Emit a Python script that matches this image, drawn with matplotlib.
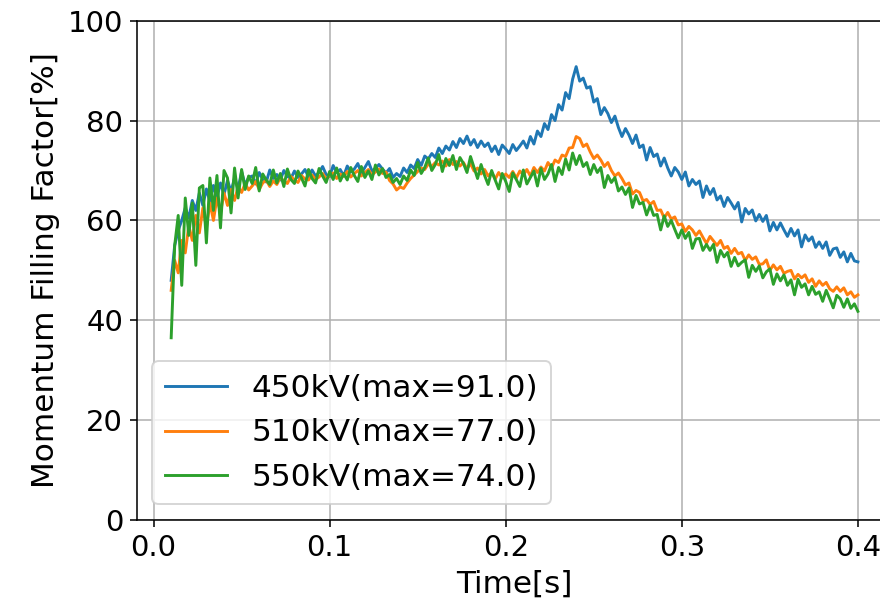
import matplotlib
matplotlib.use("Agg")
import matplotlib.pyplot as plt
import numpy as np

# Momentum filling factor (%), amostras a cada 2 ms de 0.01 s a 0.40 s
mff_450 = [48, 55, 58, 60, 62.5, 60.5, 64, 62, 65.5, 63,
           66.3, 63.8, 67, 64.5, 67.5, 65.2, 68, 65.8, 68.5, 66.3,
           69.8, 67.1, 68.6, 68.9, 67.3, 69.6, 68.2, 67.7, 70.1, 68.4,
           69.2, 68.1, 70, 68.8, 68.4, 69.9, 68.6, 69.3, 70.2, 68.7,
           70.1, 68.9, 69.6, 70.8, 69.2, 68.8, 71, 69.6, 70.2, 68.9,
           70.9, 69.7, 70.3, 71.4, 69.5, 70.6, 71.8, 69.9, 70.4, 71.2,
           70.3, 69.5, 70.4, 68.6, 69.4, 68.8, 70.5, 69.6, 71.1, 70.4,
           72.2, 71, 72.9, 72.3, 73.4, 72.6, 74.5, 73.4, 74.9, 74.1,
           75.8, 74.6, 76.4, 75.4, 76.9, 75.1, 76.2, 74.6, 75.9, 74.8,
           75.5, 73.8, 74.9, 73.2, 75.1, 74.3, 73.4, 75.2, 74, 74.9,
           75.9, 74.5, 76.8, 75.3, 77.9, 76.8, 79.4, 78.2, 81.2, 80,
           83.2, 82.1, 85.6, 84.4, 88.3, 90.8, 87.9, 88.5, 86.5, 86.8,
           83.7, 84.4, 81.2, 82.6, 81.4, 79.6, 80.9, 78.6, 76.8, 78.4,
           77.1, 75.4, 77.1, 74.6, 75.1, 72.1, 74.6, 72.8, 73.3, 70.9,
           72.5, 70.5, 68.9, 70.6, 69.7, 68.2, 69.7, 66.9, 68.2, 67.2,
           67.9, 64.6, 66.9, 65.2, 66.4, 64.1, 64.9, 62.8, 64.6, 63.5,
           62.3, 63.6, 59.7, 62.4, 61.3, 62.1, 59.9, 61.2, 59.8, 61,
           57.9, 59.6, 58.1, 59.5, 58.1, 56.8, 58.4, 56.9, 58.1, 54.7,
           57.1, 55.9, 56.7, 54.6, 55.7, 54.4, 55.7, 53, 54.3, 54.5,
           52.6, 53.7, 51.7, 53.4, 51.9, 51.7]

mff_510 = [46, 52, 49.5, 56, 53.5, 59, 56, 61, 57.5, 62.5,
           58.5, 63.5, 60, 64.5, 61.5, 65.5, 63, 66.2, 64, 66.8,
           65.6, 67.4, 66.1, 66.9, 67.8, 66.2, 67.5, 68.1, 66.8, 67.9,
           67.2, 68.6, 67.9, 67.4, 68.8, 68.1, 67.6, 69, 68.3, 68.1,
           69.1, 68.2, 68.7, 69.4, 68.3, 69, 69.5, 68.4, 69.3, 68.8,
           69.8, 68.7, 69.4, 70, 68.9, 69.6, 70.2, 69.1, 69.7, 70.3,
           69.4, 69.7, 68, 67.3, 66.1, 66.7, 66.4, 67.5, 68.4, 69.1,
           69.8, 70.5, 70.2, 71.3, 70.8, 71.6, 71.1, 71.9, 70.9, 72.2,
           71.2, 71.8, 70.9, 71.6, 70.3, 71.4, 69.9, 70.5, 69.3, 70.2,
           68.9, 69.6, 68.3, 69.6, 68.5, 69.3, 68.6, 69.8, 68.5, 69.9,
           69.1, 70.2, 68.9, 70.6, 69.6, 70.7, 69.9, 71.6, 70.5, 72.1,
           71.6, 73.1, 72.8, 74.5, 74.6, 76.8, 76.4, 74.8, 75.3, 73.7,
           72.4, 73.1, 72.1, 70.8, 71.6, 70, 68.9, 69.5, 68.4, 67.1,
           67.5, 65.3, 66, 65.6, 63.9, 64.2, 63.2, 63.8, 62, 62.1,
           60.5, 61.6, 60.3, 60.7, 59.1, 59.3, 57.8, 58.8, 58.1, 57,
           57.9, 56.6, 55.4, 56.8, 55.9, 55, 56, 54.4, 54.8, 53.4,
           54.4, 53.3, 53.6, 52, 53.1, 52.2, 52.7, 51.2, 51.3, 52.1,
           50, 51.1, 50.1, 50.8, 49.4, 49.8, 50, 48.3, 49.2, 48.5,
           49.1, 47.6, 48.3, 46.8, 47.9, 47, 47.6, 46.3, 45.8, 46.7,
           45.8, 46.5, 45.1, 45.7, 44.6, 45.1]

mff_550 = [36.5, 55, 61, 47, 64.5, 57, 63.5, 51, 66.5, 67,
           55.5, 68.5, 62, 69, 58.5, 70, 68.5, 61.5, 70.5, 64.5,
           70.2, 66.2, 68.9, 67.4, 70.6, 65.9, 69.3, 68.1, 67.2, 70.1,
           67.5, 69.4, 66.8, 70.3, 68.2, 67.4, 69.9, 68.5, 66.9, 70.2,
           68.4, 67.5, 70.4, 68.9, 67.6, 69.8, 68.2, 70.5, 67.9, 69.4,
           68.1, 70.6, 69, 67.8, 70.8, 68.6, 69.9, 68.2, 71.1, 69.1,
           70.4, 68.6, 69.2, 67.6, 68.4, 67.2, 68.9, 68, 70.1, 69,
           71.6, 69.4, 70.6, 72.5, 70, 71.2, 73.2, 69.8, 72.4, 71,
           73, 70.2, 72.6, 71.4, 69.6, 72.8, 70.6, 68.4, 71.2, 69,
           67.2, 70, 68.1, 66.3, 69.4, 67.8, 65.8, 69.5, 68.2, 66.8,
           70.1, 67.3, 68.6, 69.9, 66.9, 70.4, 68.2, 69.3, 71.2, 67.8,
           70.6, 69.2, 72.3, 70.1, 73.5, 71.2, 73, 70.8, 71.6, 69.2,
           71.2, 69.6, 70.6, 66.6, 69, 67.6, 68.6, 65.9, 66.7, 65.2,
           66.5, 62.6, 65, 63.3, 63.6, 61.1, 63, 61, 61.2, 58.1,
           60.9, 58.8, 60, 58.2, 56.5, 58.1, 56.4, 57.6, 54.4, 56.3,
           56.4, 54, 55.2, 54, 55.2, 51.6, 54, 52.7, 53.6, 50.8,
           52.6, 50.9, 51.6, 52.1, 48.6, 51, 49.8, 50.9, 48.5, 49.7,
           50.3, 47.2, 49.3, 47.9, 49.1, 47, 48.1, 45.1, 48.2, 46.6,
           47.3, 45.1, 46.8, 45.2, 45.7, 43.8, 46, 44.3, 42.5, 45,
           44.3, 42.6, 44.3, 42.4, 43.3, 41.8]

rotulos = ['450kV(max=91.0)', '510kV(max=77.0)', '550kV(max=74.0)']

# Tempo (s)
tempo = np.linspace(0.01, 0.40, len(mff_450))

# Gerar grafico
fig = plt.figure(figsize=(880 / 140, 609 / 140), dpi=140)
ax = fig.add_axes([0.1555, 0.1461, 0.8584, 0.8199])

ax.plot(tempo, mff_450, label=rotulos[0])
ax.plot(tempo, mff_510, label=rotulos[1])
ax.plot(tempo, mff_550, label=rotulos[2])

ax.set_ylim(0, 100)
ax.set_xticks([0.0, 0.1, 0.2, 0.3, 0.4])
ax.set_xlabel('Time[s]', fontsize=16)
ax.set_ylabel('Momentum Filling Factor[%]', fontsize=16)
ax.tick_params(labelsize=15)
ax.grid(True)
ax.legend(loc='lower left', fontsize=16)

fig.savefig('out.png', dpi=140)
